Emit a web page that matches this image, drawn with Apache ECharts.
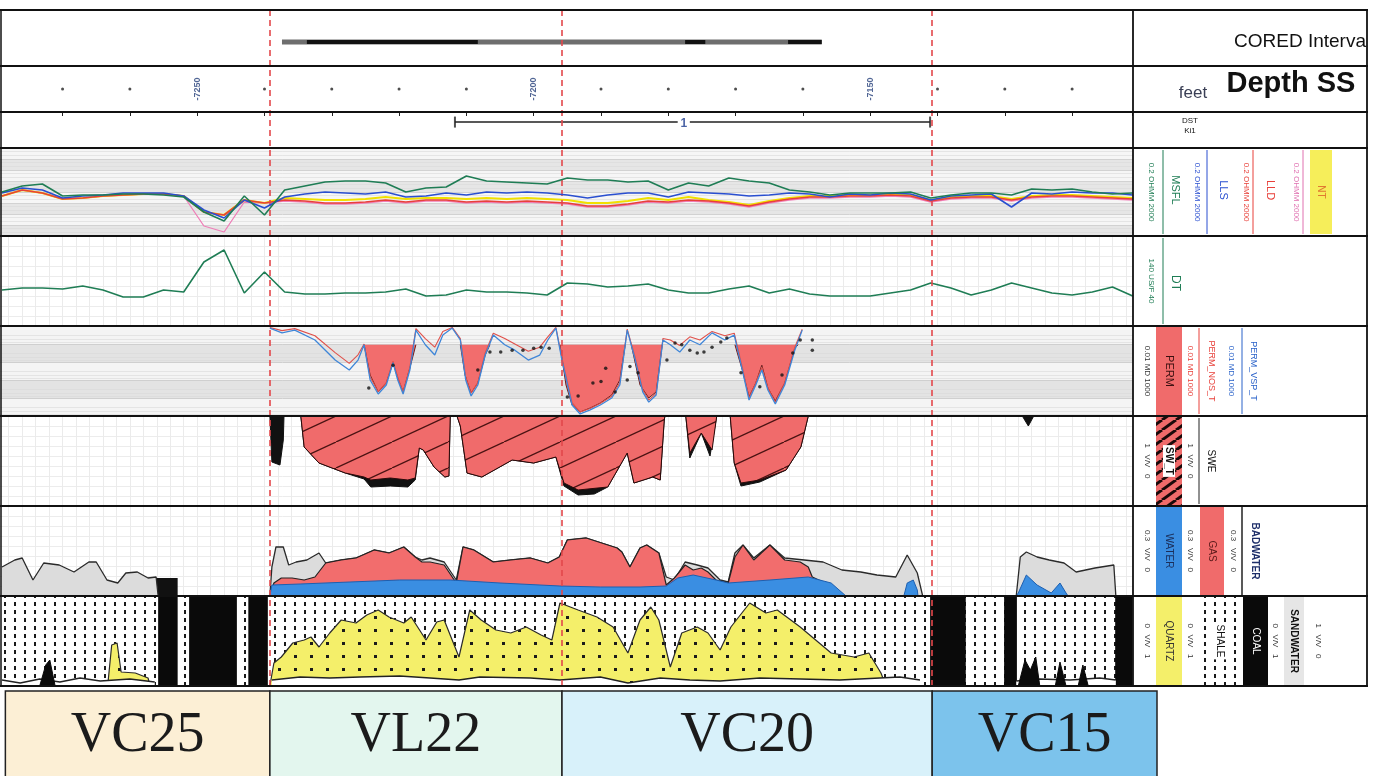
<!DOCTYPE html>
<html><head><meta charset="utf-8">
<script src="https://cdn.jsdelivr.net/npm/echarts@6/dist/echarts.min.js"></script>
<style>html,body{margin:0;padding:0;background:#fff}#c{width:1376px;height:776px}</style>
</head><body><div id="c"></div><script>
// ---------------- DATA ----------------
const DEPTH_MIN = -7280, DEPTH_MAX = -7111, ZONE_MAX = -7107.4;
const depthLabels = [-7250, -7200, -7150];
const depthTicks = [-7270,-7260,-7240,-7230,-7220,-7210,-7190,-7180,-7170,-7160,-7140,-7130,-7120];
const depthSamples = [-7279,-7276,-7273,-7270,-7267,-7264,-7261,-7258,-7255,-7252,-7249,-7246,-7243,-7240,-7237,-7234,-7231,-7228,-7225,-7222,-7219,-7216,-7213,-7210,-7207,-7204,-7201,-7198,-7195,-7192,-7189,-7186,-7183,-7180,-7177,-7174,-7171,-7168,-7165,-7162,-7159,-7156,-7153,-7150,-7147,-7144,-7141,-7138,-7135,-7132,-7129,-7126,-7123,-7120,-7117,-7114,-7111];
// resistivity track (relative track units)
const msfl = [44,50,52,40,41,41,42,42,41,39,24,15,40,21,46,50,54,55,55,53,44,48,49,60,55,54,53,52,58,56,56,54,55,46,53,50,58,55,53,46,44,41,43,43,43,44,38,41,43,43,41,47,46,47,44,42,43];
const lls  = [43,48,46,38,40,41,43,43,43,40,26,18,36,28,39,42,44,43,42,44,39,40,43,41,44,43,44,43,41,38,41,43,43,39,44,43,42,40,41,43,42,39,42,41,43,42,36,40,41,42,29,43,42,44,43,43,41];
const lld  = [40,46,43,37,38,40,41,42,42,40,24,21,36,33,36,35,33,33,34,36,34,36,36,34,35,34,35,34,33,30,30,32,35,34,36,35,33,30,34,37,39,39,40,40,41,40,35,38,39,39,36,39,40,40,39,38,37];
const ntCurve = [40,46,43,37,38,40,41,42,42,40,24,21,36,33,38,37,36,36,37,39,37,38,38,37,38,37,38,37,36,33,33,35,38,36,39,36,34,31,35,38,40,40,41,41,42,41,36,39,40,40,37,40,41,41,40,39,38];
const pinkCurve = [40,46,43,37,38,40,41,42,42,40,10,4,34,33,35,34,32,32,33,35,33,35,35,33,34,33,34,33,32,29,29,31,34,33,35,34,32,29,33,36,38,38,39,39,40,39,34,37,38,38,35,38,39,39,38,37,36];
const dt = [36,38,38,37,40,36,29,29,36,34,64,76,33,54,34,32,32,33,33,34,37,30,31,36,34,34,33,31,43,42,39,40,42,36,33,33,37,40,33,37,32,30,30,30,33,36,43,38,31,36,43,38,33,31,34,39,30];
// permeability (md)
const PERM_CUTOFF = 0.11;
const permVsp = [[-7239.2,0.013],[-7237.4,0.024],[-7235.5,0.017],[-7232.5,0.06],[-7229.5,0.78],[-7227.4,2.8],[-7226.1,0.78],[-7225.2,0.11],[-7224.3,10],[-7223.1,60],[-7221.9,19],[-7220.9,1.1],[-7220.2,10],[-7219.4,60],[-7218.4,2.8],[-7217.5,0.017],[-7216.1,0.11],[-7214.7,0.41],[-7213.5,0.032],[-7212.1,0.013],[-7210.9,0.06],[-7210.1,10],[-7209.3,77],[-7208.3,19],[-7207.2,0.41],[-7206.0,0.032],[-7204.3,0.11],[-7202.8,0.22],[-7200.8,0.78],[-7199.1,0.41],[-7197.9,0.06],[-7196.7,0.013],[-7195.8,0.78],[-7194.3,245],[-7193.1,770],[-7191.6,460],[-7190.1,245],[-7188.4,100],[-7187.2,19],[-7186.1,0.017],[-7184.9,0.78],[-7183.8,46],[-7182.9,170],[-7181.8,68],[-7180.8,0.06],[-7179.7,0.11],[-7178.3,0.28],[-7176.8,0.06],[-7175.3,0.11],[-7173.5,0.024],[-7171.6,0.06],[-7170.2,0.032],[-7169.0,2.8],[-7168.0,130],[-7167.0,19],[-7166.1,2.8],[-7165.2,36],[-7164.1,215],[-7162.7,19],[-7161.2,0.22],[-7160.1,0.017]];
const permNos = [[-7239.2,0.012],[-7237.4,0.018],[-7235.5,0.014],[-7232.5,0.035],[-7229.5,0.3],[-7227.4,1.2],[-7226.1,0.4],[-7225.2,0.1],[-7224.3,7],[-7223.1,45],[-7221.9,14],[-7220.9,0.9],[-7220.2,7],[-7219.4,45],[-7218.4,2],[-7217.5,0.014],[-7216.1,0.05],[-7214.7,0.15],[-7213.5,0.02],[-7212.1,0.012],[-7210.9,0.05],[-7210.1,7],[-7209.3,55],[-7208.3,14],[-7207.2,0.3],[-7206.0,0.025],[-7204.3,0.05],[-7202.8,0.1],[-7200.8,0.25],[-7199.1,0.15],[-7197.9,0.04],[-7196.7,0.012],[-7195.8,0.6],[-7194.3,180],[-7193.1,600],[-7191.6,380],[-7190.1,200],[-7188.4,80],[-7187.2,14],[-7186.1,0.015],[-7184.9,0.6],[-7183.8,35],[-7182.9,130],[-7181.8,55],[-7180.8,0.05],[-7179.7,0.06],[-7178.3,0.12],[-7176.8,0.04],[-7175.3,0.06],[-7173.5,0.02],[-7171.6,0.035],[-7170.2,0.025],[-7169.0,2],[-7168.0,100],[-7167.0,14],[-7166.1,2],[-7165.2,28],[-7164.1,170],[-7162.7,14],[-7161.2,0.15],[-7160.1,0.015]];
const permFill = [[-7225.2,0.11],[-7224.3,5.3],[-7223.1,46],[-7221.9,14.7],[-7220.9,1.1],[-7220.2,7.7],[-7219.4,46],[-7218.4,2.2],[-7217.5,0.11],null,
  [-7210.9,0.11],[-7210.2,5.3],[-7209.3,53],[-7208.3,14.7],[-7207.2,0.41],[-7206.5,0.11],null,
  [-7196.1,0.11],[-7195.2,19],[-7194.3,245],[-7193.1,600],[-7191.6,360],[-7190.1,190],[-7188.4,68],[-7187.2,10],[-7186.4,0.11],null,
  [-7185.5,0.11],[-7184.2,19],[-7182.9,100],[-7181.8,46],[-7180.9,0.11],null,
  [-7170.1,0.11],[-7169.0,2.8],[-7168.0,88],[-7167.0,14.7],[-7166.1,1.5],[-7165.2,28],[-7164.1,147],[-7162.7,14.7],[-7161.2,0.17],[-7160.7,0.11]];
const corePerm = [[-7224.5,28],[-7220.9,1.5],[-7208.3,2.8],[-7206.5,0.28],[-7204.9,0.28],[-7203.2,0.22],[-7201.6,0.22],[-7200.0,0.17],[-7198.9,0.15],[-7197.7,0.17],[-7195.0,88],[-7193.4,77],[-7191.2,14.7],[-7190.0,12],[-7189.3,2.2],[-7187.9,46],[-7186.1,10],[-7185.7,1.8],[-7184.5,4],[-7180.2,0.78],[-7179.0,0.088],[-7178.0,0.11],[-7176.8,0.22],[-7175.7,0.32],[-7174.7,0.28],[-7173.5,0.15],[-7172.2,0.077],[-7171.3,0.046],[-7169.2,4],[-7166.4,24],[-7163.1,5.3],[-7161.5,0.32],[-7160.4,0.06],[-7158.6,0.22],[-7158.6,0.06]];
// saturation track (track units from top)
const swe = [[-7234.6,0],[-7234.1,31],[-7231.9,47],[-7228.0,57],[-7225.2,61],[-7224.2,64],[-7221.3,62],[-7218.7,64],[-7217.6,62],[-7217.0,32],[-7216.4,34],[-7214.8,51],[-7213.2,61],[-7212.6,60],[-7212.4,0],null,
  [-7211.4,0],[-7210.9,10],[-7209.9,57],[-7207.7,61],[-7203.2,44],[-7200.0,47],[-7196.7,41],[-7195.5,67],[-7193.4,74],[-7189.0,71],[-7186.1,37],[-7185.1,67],[-7182.3,61],[-7181.2,64],[-7180.6,4],[-7180.5,0],null,
  [-7177.4,0],[-7176.8,37],[-7175.1,17],[-7173.5,34],[-7172.8,0],null,
  [-7170.8,0],[-7170.2,47],[-7169.2,67],[-7166.4,64],[-7162.5,54],[-7160.3,31],[-7159.2,0]];
const swt = [[-7239.2,0],[-7238.9,46],[-7237.7,49],[-7237.2,24],[-7237.1,0],null,
  [-7234.6,0],[-7234.1,31],[-7231.9,47],[-7228.0,57],[-7225.2,63],[-7224.2,71],[-7221.3,70],[-7218.7,71],[-7217.6,64],[-7217.0,32],[-7216.4,34],[-7214.8,51],[-7213.2,61],[-7212.6,60],[-7212.4,0],null,
  [-7211.4,0],[-7210.9,10],[-7209.9,57],[-7207.7,61],[-7203.2,44],[-7200.0,47],[-7196.7,41],[-7195.5,70],[-7193.4,79],[-7191.0,78],[-7189.0,71],[-7186.1,37],[-7185.1,67],[-7182.3,61],[-7181.2,64],[-7180.6,4],[-7180.5,0],null,
  [-7177.4,0],[-7176.8,42],[-7175.1,17],[-7173.8,40],[-7172.8,0],null,
  [-7170.8,0],[-7170.2,47],[-7169.2,70],[-7166.4,66],[-7162.5,54],[-7160.3,31],[-7159.2,0],null,
  [-7127.4,0],[-7126.5,10],[-7125.7,0]];
// fluid track (bulk volume, track units from bottom)
const badwater = [[-7279.0,29],[-7277.1,36],[-7276.0,38],[-7274.4,16],[-7272.8,33],[-7270.5,31],[-7268.3,24],[-7266.1,34],[-7265.0,34],[-7263.4,16],[-7261.8,13],[-7260.6,23],[-7258.9,24],[-7257.3,18],[-7256.1,19],[-7255.8,0],null,
  [-7239.2,0],[-7238.9,29],[-7238.3,49],[-7237.2,49],[-7236.4,31],[-7235.3,34],[-7233.7,36],[-7231.9,43],[-7230.9,33],[-7228.6,36],[-7226.4,38],[-7223.7,46],[-7221.5,43],[-7219.3,49],[-7217.6,39],[-7216.6,36],[-7215.4,38],[-7213.3,34],[-7211.5,16],[-7210.5,49],[-7208.9,46],[-7206.0,34],[-7203.4,36],[-7200.5,38],[-7197.9,33],[-7196.2,39],[-7195.0,56],[-7192.2,58],[-7187.6,48],[-7186.9,44],[-7185.7,29],[-7184.2,48],[-7183.2,51],[-7181.4,43],[-7180.3,19],[-7179.1,16],[-7177.5,34],[-7175.7,31],[-7174.1,28],[-7172.3,16],[-7171.1,14],[-7170.1,43],[-7168.9,51],[-7167.3,38],[-7164.9,51],[-7162.7,38],[-7159.8,36],[-7157.0,34],[-7154.2,26],[-7151.4,24],[-7149.0,21],[-7146.2,19],[-7144.5,41],[-7143.0,23],[-7142.2,0],null,
  [-7128.3,0],[-7127.7,39],[-7126.8,44],[-7125.2,39],[-7123.4,36],[-7121.2,33],[-7119.4,24],[-7116.6,28],[-7113.8,31],[-7113.5,0]];
const gas = [[-7239.2,0],[-7238.6,13],[-7237.5,18],[-7235.9,18],[-7234.1,16],[-7232.5,19],[-7230.9,33],[-7228.6,36],[-7226.4,38],[-7223.7,46],[-7221.5,43],[-7219.3,49],[-7217.6,39],[-7216.6,34],[-7215.4,34],[-7213.3,31],[-7211.5,13],[-7210.5,49],[-7208.9,46],[-7206.0,34],[-7203.4,36],[-7200.5,38],[-7197.9,33],[-7196.2,39],[-7195.0,56],[-7192.2,58],[-7187.6,48],[-7186.9,44],[-7185.7,29],[-7184.2,48],[-7183.2,51],[-7181.4,43],[-7180.3,11],[-7179.1,18],[-7177.5,31],[-7176.3,26],[-7175.1,28],[-7174.1,24],[-7172.9,16],[-7171.1,13],[-7170.1,39],[-7168.9,51],[-7167.3,36],[-7164.9,51],[-7162.7,36],[-7160.4,34],[-7159.2,29],[-7158.6,19],[-7157.0,14]];
const water = [[-7239.2,0],[-7238.9,11],[-7234.7,12],[-7227.3,14],[-7219.9,16],[-7212.4,16],[-7205.0,13],[-7196.1,10],[-7190.1,9],[-7184.2,9],[-7180.3,10],[-7178.6,18],[-7176.3,21],[-7172.9,16],[-7171.1,13],[-7164.9,16],[-7159.2,19],[-7155.8,13],[-7153.6,0],null,
  [-7145.0,0],[-7144.5,13],[-7143.6,16],[-7143.0,6],[-7142.9,0],null,
  [-7128.3,0],[-7128.0,3],[-7126.8,21],[-7125.2,11],[-7123.1,3],[-7121.8,13],[-7120.9,3],[-7120.6,0]];
const fluidCoal = [[-7256.1,-7252.9]];
// lithology track (volume, track units from bottom)
const quartz = [[-7263.3,0],[-7262.7,41],[-7261.9,43],[-7261.3,14],[-7259.2,13],[-7257.3,8],[-7257.0,0],null,
  [-7239.2,0],[-7238.6,23],[-7237.5,29],[-7235.8,43],[-7234.1,46],[-7233.1,49],[-7231.9,39],[-7230.3,53],[-7228.6,66],[-7226.4,63],[-7224.8,71],[-7223.1,76],[-7221.5,69],[-7219.3,63],[-7218.2,69],[-7216.0,46],[-7214.4,64],[-7213.3,66],[-7211.1,29],[-7209.5,76],[-7207.8,66],[-7205.6,56],[-7203.4,53],[-7201.1,59],[-7198.9,51],[-7197.3,46],[-7196.1,83],[-7193.4,76],[-7190.6,69],[-7188.2,59],[-7186.0,33],[-7184.2,66],[-7182.6,79],[-7181.4,66],[-7179.7,19],[-7178.0,53],[-7175.7,59],[-7174.1,53],[-7172.3,36],[-7170.7,59],[-7167.9,83],[-7165.5,73],[-7163.8,76],[-7160.4,59],[-7158.1,46],[-7155.8,33],[-7152.4,29],[-7150.2,33],[-7148.4,13],[-7148.0,6],[-7147.6,0]];
const sandwater = [[-7279.0,6],[-7276.3,3],[-7273.4,7],[-7270.4,4],[-7267.4,8],[-7264.4,5],[-7260.0,7],[-7256.3,4],null,
  [-7238.9,6],[-7234.7,9],[-7230.3,8],[-7225.8,9],[-7219.9,10],[-7215.4,8],[-7211.1,6],[-7208.0,9],[-7200.5,8],[-7196.1,6],[-7190.1,9],[-7186.0,3],[-7181.2,8],[-7176.8,6],[-7172.3,5],[-7166.4,8],[-7160.4,7],[-7154.5,6],[-7148.6,8],[-7145.6,9],[-7142.6,6],null,
  [-7128.3,5],[-7124.8,7],[-7120.3,6],[-7115.9,8],[-7113.5,6]];
const coalCurve = [[-7273.4,0],[-7272.5,21],[-7271.9,26],[-7271.1,0],null,
  [-7128.0,0],[-7127.0,26],[-7126.2,16],[-7125.4,29],[-7124.8,0],null,
  [-7122.5,0],[-7121.8,24],[-7120.9,0],null,[-7119.1,0],[-7118.4,21],[-7117.6,0]];
const coalBeds = [[-7255.8,-7252.9],[-7251.2,-7244.1],[-7242.4,-7239.5],[-7141.1,-7135.8],[-7130.1,-7128.2],[-7113.6,-7111]];
// cored interval, DST, zones
const coredInterval = [-7237.4, -7157.2];
const coredDark = [[-7233.7,-7208.3],[-7177.5,-7174.5],[-7162.2,-7157.2]];
const dstInterval = [-7211.7, -7141.1];
const dstGap = [-7178.6, -7176.8];
const dstName = '1';
const zoneNames = ['VC25','VL22','VC20','VC15'];
const zoneTops  = [-7278.5, -7239.2, -7195.8, -7140.8];
const zoneBases = [-7239.2, -7195.8, -7140.8, -7107.4];
const zoneBoundaries = [-7239.2, -7195.8, -7140.8];

// ---------------- STYLE ----------------
const zoneColors = ['#fcefd5','#e3f6ee','#d8f1fa','#7cc3ec'];
function pat(w,h,draw){const c=document.createElement('canvas');c.width=w;c.height=h;const g=c.getContext('2d');draw(g,w,h);return {image:c,repeat:'repeat'};}
const hatch = pat(56,26,(g,w,h)=>{g.fillStyle='#f06b6b';g.fillRect(0,0,w,h);g.strokeStyle='#4a1212';g.lineWidth=1.3;
  [-w,0,w].forEach(o=>{g.beginPath();g.moveTo(o,h);g.lineTo(o+w,0);g.stroke();});});
const hatchSmall = pat(14,10,(g,w,h)=>{g.fillStyle='#f06b6b';g.fillRect(0,0,w,h);g.strokeStyle='#1a0a0a';g.lineWidth=3;
  [-w,0,w].forEach(o=>{g.beginPath();g.moveTo(o,h);g.lineTo(o+w,0);g.stroke();});});
const quartzPat = pat(16,13,(g,w,h)=>{g.fillStyle='#f4ef6a';g.fillRect(0,0,w,h);g.fillStyle='#1a1a1a';g.fillRect(6,5,3,3);});
const shalePat = pat(10,8,(g,w,h)=>{g.fillStyle='#ffffff';g.fillRect(0,0,w,h);g.fillStyle='#1a1a1a';g.fillRect(4,2,2,4);});

const L = -4.73, W = 1137.4;
const rows = [[10,56],[66,46],[112,36],[148,88],[236,90],[326,90],[416,90],[506,90],[596,90],[691,90],[10,676]];
const grid = rows.map((r,i)=>({left:L, top:r[0], height:r[1], width: i===9 ? 1161.73 : W, outerBoundsMode:'none', containLabel:false}));
const hidden = {axisLine:{show:false},axisTick:{show:false},axisLabel:{show:false}};
const vgrid = Object.assign({show:true, interval:2, splitLine:{show:true,lineStyle:{color:'#ebebeb',width:1}}}, hidden);
function xa(i, extra){return Object.assign({gridIndex:i,type:'value',min:DEPTH_MIN,max:(i===9?ZONE_MAX:DEPTH_MAX),show:false}, extra||{});}
const xAxis = [xa(0), xa(1,Object.assign({},hidden,{show:true,position:'top',interval:10,axisTick:{show:true,inside:true,length:4,lineStyle:{color:'#222'}},splitLine:{show:false}})),
  xa(2), xa(3), xa(4,vgrid), xa(5), xa(6,vgrid), xa(7,vgrid), xa(8), xa(9), xa(10)];
const hgrid = (c)=>Object.assign({show:true, splitLine:{show:true,lineStyle:{color:c||'#e6e6e6',width:1}}}, hidden);
const yAxis = [
  {gridIndex:0,min:0,max:1,show:false},
  {gridIndex:1,min:0,max:1,show:false},
  {gridIndex:2,min:0,max:1,show:false},
  Object.assign({gridIndex:3,min:0,max:88,interval:11,splitArea:{show:true,areaStyle:{color:['#e6e6e6','#f6f6f6']}},minorTick:{show:false,splitNumber:3},minorSplitLine:{show:true,lineStyle:{color:'#dadada',width:0.6}}}, hgrid('#d2d2d2')),
  Object.assign({gridIndex:4,min:0,max:90,interval:10}, hgrid('#ececec')),
  Object.assign({gridIndex:5,type:'log',logBase:10,min:0.01,max:1000,inverse:true,splitArea:{show:true,areaStyle:{color:['#f4f4f4','#e3e3e3']}},minorTick:{show:false,splitNumber:4},minorSplitLine:{show:true,lineStyle:{color:'#d8d8d8',width:0.6}}}, hgrid('#cfcfcf')),
  Object.assign({gridIndex:6,min:0,max:90,interval:10,inverse:true}, hgrid('#ececec')),
  Object.assign({gridIndex:7,min:0,max:90,interval:10}, hgrid('#ececec')),
  {gridIndex:8,min:0,max:90,show:false},
  {gridIndex:9,min:0,max:1,show:false},
  {gridIndex:10,min:0,max:1,show:false}
];
const onGrid = (i)=>({xAxisIndex:i,yAxisIndex:i});
const pairs = (arr)=>depthSamples.map((d,k)=>[d,arr[k]]);
const curve = (i,data,color,w,z)=>Object.assign({type:'line',data,symbol:'none',lineStyle:{color,width:w||1.4},z:z||3,silent:true}, onGrid(i));
const level = (segs,v)=>{const o=[];segs.forEach((s,k)=>{if(k)o.push(null);o.push([s[0],v],[s[1],v]);});return o;};

const series = [
  // cored interval
  Object.assign({type:'line',symbol:'none',data:level([coredInterval],0.43),lineStyle:{color:'#6e6e6e',width:5},silent:true}, onGrid(0)),
  Object.assign({type:'line',symbol:'none',data:level(coredDark,0.43),lineStyle:{color:'#111',width:4},silent:true}, onGrid(0)),
  // depth ruler
  Object.assign({type:'scatter',data:depthTicks.map(d=>[d,0.5]),symbolSize:3,itemStyle:{color:'#222'},silent:true}, onGrid(1)),
  Object.assign({type:'scatter',data:depthLabels.map(d=>[d,0.5]),symbolSize:1,itemStyle:{color:'rgba(0,0,0,0)'},silent:true,
    label:{show:true,position:'inside',rotate:90,fontSize:9,fontWeight:'bold',color:'#25407a',formatter:p=>String(p.value[0])}}, onGrid(1)),
  // DST
  Object.assign({type:'line',symbol:'none',data:level([[dstInterval[0],dstGap[0]],[dstGap[1],dstInterval[1]]],0.72),lineStyle:{color:'#222',width:1.5},silent:true}, onGrid(2)),
  Object.assign({type:'scatter',data:dstInterval.map(d=>[d,0.72]),symbol:'rect',symbolSize:[2,11],itemStyle:{color:'#222'},silent:true}, onGrid(2)),
  Object.assign({type:'scatter',data:[[(dstGap[0]+dstGap[1])/2,0.68]],symbolSize:1,itemStyle:{color:'rgba(0,0,0,0)'},silent:true,
    label:{show:true,position:'inside',fontSize:12,fontWeight:'bold',color:'#1d3c8f',formatter:()=>dstName}}, onGrid(2)),
  // resistivity
  curve(3,pairs(pinkCurve),'#ef7fb8',1.3,3),
  curve(3,pairs(ntCurve),'#f0e000',2.2,3),
  curve(3,pairs(lld),'#e8403a',1.6,4),
  curve(3,pairs(lls),'#2a4fd0',1.6,5),
  curve(3,pairs(msfl),'#1f7d55',1.6,6),
  // DT
  curve(4,pairs(dt),'#1f7d55',1.6,3),
  // permeability
  Object.assign({type:'line',data:permFill,symbol:'none',lineStyle:{color:'#6a1c1c',width:1},areaStyle:{color:'#f26d6d',opacity:1,origin:PERM_CUTOFF},z:2,silent:true}, onGrid(5)),
  curve(5,permNos,'#e0504a',1.1,3),
  curve(5,permVsp,'#3f86d8',1.3,4),
  Object.assign({type:'scatter',data:corePerm,symbolSize:3.5,itemStyle:{color:'#111'},z:5,silent:true}, onGrid(5)),
  // saturation
  Object.assign({type:'line',data:swt,symbol:'none',lineStyle:{color:'#111',width:1},areaStyle:{color:'#111',opacity:1,origin:'start'},z:2,silent:true}, onGrid(6)),
  Object.assign({type:'line',data:swe,symbol:'none',lineStyle:{color:'#2a0a0a',width:1},areaStyle:{color:hatch,opacity:1,origin:'start'},z:3,silent:true}, onGrid(6)),
  // fluids
  Object.assign({type:'line',data:badwater,symbol:'none',lineStyle:{color:'#2a2a2a',width:1.3},areaStyle:{color:'#dcdcdc',opacity:1,origin:'start'},z:2,silent:true,
    markArea:{silent:true,itemStyle:{color:'#111',opacity:1},data:fluidCoal.map(b=>[{xAxis:b[0],yAxis:0},{xAxis:b[1],yAxis:18}])}}, onGrid(7)),
  Object.assign({type:'line',data:gas,symbol:'none',lineStyle:{color:'#222',width:1.2},areaStyle:{color:'#f26d6d',opacity:1,origin:'start'},z:3,silent:true}, onGrid(7)),
  Object.assign({type:'line',data:water,symbol:'none',lineStyle:{color:'#1d5fb0',width:1},areaStyle:{color:'#3a8ee2',opacity:1,origin:'start'},z:4,silent:true}, onGrid(7)),
  // lithology
  Object.assign({type:'line',data:[],z:1,silent:true,markArea:{silent:true,itemStyle:{color:shalePat,opacity:1},data:[[{xAxis:DEPTH_MIN},{xAxis:DEPTH_MAX}]]}}, onGrid(8)),
  Object.assign({type:'line',data:quartz,symbol:'none',lineStyle:{color:'#2a2a2a',width:1.2},areaStyle:{color:quartzPat,opacity:1,origin:'start'},z:2,silent:true}, onGrid(8)),
  Object.assign({type:'line',data:sandwater,symbol:'none',lineStyle:{color:'#222',width:1.4},areaStyle:{color:'#ffffff',opacity:1,origin:'start'},z:3,silent:true}, onGrid(8)),
  Object.assign({type:'line',data:coalCurve,symbol:'none',lineStyle:{color:'#0a0a0a',width:1},areaStyle:{color:'#0a0a0a',opacity:1,origin:'start'},z:4,silent:true,
    markArea:{silent:true,itemStyle:{color:'#0a0a0a',opacity:1},data:coalBeds.map(b=>[{xAxis:b[0]},{xAxis:b[1]}])}}, onGrid(8)),
  // zones
  Object.assign({type:'line',data:[],z:2,silent:true,markArea:{silent:true,
    label:{show:true,position:'inside',fontFamily:'"Liberation Serif","Times New Roman",serif',fontSize:56,color:'#1b1b1b'},
    itemStyle:{borderColor:'#222',borderWidth:1.5,opacity:1},
    data:zoneNames.map((n,k)=>[{name:n,xAxis:zoneTops[k],itemStyle:{color:zoneColors[k]}},{xAxis:zoneBases[k]}])}}, onGrid(9)),
  // zone boundaries
  Object.assign({type:'line',data:[],z:20,silent:true,markLine:{silent:true,symbol:['none','none'],label:{show:false},
    lineStyle:{color:'#e3484b',type:[6,4],width:1.6},data:zoneBoundaries.map(v=>({xAxis:v}))}}, onGrid(10))
];

// ---------------- FRAME & HEADER ----------------
const G = [];
const FONT = '"Liberation Sans", Arial, sans-serif';
const hl=(y,x1,x2,w,c)=>G.push({type:'line',z:100,silent:true,shape:{x1,y1:y,x2,y2:y},style:{stroke:c||'#111',lineWidth:w||1.8}});
const vl=(x,y1,y2,w,c)=>G.push({type:'line',z:100,silent:true,shape:{x1:x,y1,x2:x,y2},style:{stroke:c||'#111',lineWidth:w||1.8}});
const rc=(x,y,w,h,fill,stroke)=>G.push({type:'rect',z:99,silent:true,shape:{x,y,width:w,height:h},style:{fill,stroke:stroke||null,lineWidth:1}});
const tx=(x,y,text,o)=>{o=o||{};G.push({type:'text',z:101,silent:true,x,y,rotation:o.rot?-Math.PI/2:0,
  style:{text,fill:o.c||'#111',font:(o.b?'bold ':'')+(o.s||9)+'px '+FONT,align:o.a||'center',verticalAlign:'middle',backgroundColor:o.bg||null,padding:o.bg?[1,2]:0}});};
[10,66,112,148,236,326,416,506,596,686].forEach(y=>hl(y,0,1368));
vl(1,10,686,1.5); vl(1133,10,686); vl(1367,10,686);
// header texts
tx(1366,42,'CORED Interva',{a:'right',s:19});
tx(1193,93,'feet',{s:17,c:'#3a3f55'});
tx(1291,84,'Depth SS',{s:29,b:true});
tx(1190,121,'DST',{s:8}); tx(1190,131,'Ki1',{s:8});
// resistivity legend
const colT1=[['#1f7d55',1151,1163,'MSFL',1175],['#2a4fd0',1197,1207,'LLS',1223],['#e8403a',1246,1253,'LLD',1270]];
colT1.forEach(c=>{tx(c[1],192,'0.2 OHMM 2000',{rot:1,s:8,c:c[0]});vl(c[2],150,234,1,c[0]);tx(c[4],190,c[3],{rot:1,s:11,c:c[0]});});
tx(1296,192,'0.2 OHMM 2000',{rot:1,s:8,c:'#e070b0'}); vl(1303,150,234,1,'#e070b0');
rc(1310,150,22,84,'#f6ee5a'); tx(1321,192,'NT',{rot:1,s:10,c:'#e07a30'});
// DT legend
tx(1151,281,'140 US/F 40',{rot:1,s:8,c:'#1f7d55'}); vl(1163,238,324,1,'#1f7d55'); tx(1175,283,'DT',{rot:1,s:12,c:'#1f7d55'});
// perm legend
tx(1147,371,'0.01 MD 1000',{rot:1,s:8,c:'#333'});
rc(1156,327,26,88,'#f06b6b'); tx(1169,371,'PERM',{rot:1,s:11,c:'#3a1010'});
tx(1190,371,'0.01 MD 1000',{rot:1,s:8,c:'#e8403a'}); vl(1199,328,414,1,'#e8403a'); tx(1211,371,'PERM_NOS_T',{rot:1,s:9,c:'#e8403a'});
tx(1231,371,'0.01 MD 1000',{rot:1,s:8,c:'#2a62c9'}); vl(1242,328,414,1,'#2a62c9'); tx(1253,371,'PERM_VSP_T',{rot:1,s:9,c:'#2a62c9'});
// SW legend
tx(1147,461,'1   V/V   0',{rot:1,s:8,c:'#333'});
rc(1156,417,26,88,hatchSmall); tx(1169,461,'SW_T',{rot:1,s:10,b:true,bg:'#ffffff'});
tx(1190,461,'1   V/V   0',{rot:1,s:8,c:'#333'}); vl(1199,418,504,1,'#222'); tx(1211,461,'SWE',{rot:1,s:10});
// fluids legend
tx(1147,551,'0.3   V/V   0',{rot:1,s:8,c:'#333'});
rc(1156,507,26,88,'#3a8ee2'); tx(1169,551,'WATER',{rot:1,s:10,c:'#1b2e5a'});
tx(1190,551,'0.3   V/V   0',{rot:1,s:8,c:'#333'});
rc(1200,507,24,88,'#f06b6b'); tx(1212,551,'GAS',{rot:1,s:10,c:'#5a1a1a'});
tx(1233,551,'0.3   V/V   0',{rot:1,s:8,c:'#333'}); vl(1242,507,595,1.5,'#222');
tx(1255,551,'BADWATER',{rot:1,s:10,b:true,c:'#1e2f6a'});
// lithology legend
tx(1147,641,'0   V/V   1',{rot:1,s:8,c:'#333'});
rc(1156,597,26,88,'#f4ef6a'); tx(1169,641,'QUARTZ',{rot:1,s:10,c:'#333'});
tx(1190,641,'0   V/V   1',{rot:1,s:8,c:'#333'});
rc(1200,597,40,88,shalePat); tx(1220,641,'SHALE',{rot:1,s:10,bg:'#ffffff'});
rc(1243,597,25,88,'#0a0a0a'); tx(1256,641,'COAL',{rot:1,s:10,c:'#ffffff'});
tx(1275,641,'0   V/V   1',{rot:1,s:8,c:'#333'});
rc(1284,597,20,88,'#e6e6e6'); tx(1294,641,'SANDWATER',{rot:1,s:10,b:true});
tx(1318,641,'1   V/V   0',{rot:1,s:8,c:'#333'});

const chart = echarts.init(document.getElementById('c'));
chart.setOption({animation:false, backgroundColor:'#ffffff', textStyle:{fontFamily:FONT},
  grid, xAxis, yAxis, series, graphic:G});
</script></body></html>
